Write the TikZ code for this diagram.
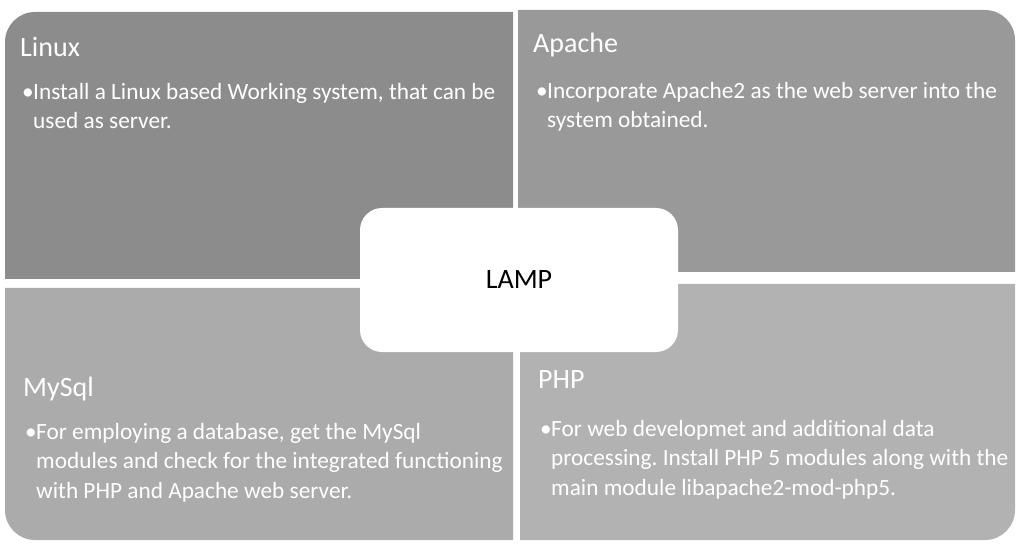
\documentclass[tikz,border=0pt]{standalone}
\usepackage{fontspec}
\setmainfont{Carlito}
\frenchspacing
\newcommand{\bul}{\makebox[11pt][l]{\textbullet}}
\newcommand{\ind}{\hspace*{11pt}}

\begin{document}
\begin{tikzpicture}[
    x=1pt, y=1pt,
    head/.style={anchor=north west, inner sep=0pt, text=white, font=\fontsize{28}{34}\selectfont},
    body/.style={anchor=north west, inner sep=0pt, text=white, align=left, font=\fontsize{23.3}{29.5}\selectfont},
    lampbox/.style={fill=white, rounded corners=22pt, minimum width=318pt, minimum height=144pt, font=\fontsize{28}{34}\selectfont}
  ]
  \useasboundingbox (0,0) rectangle (1019,544);

  \fill[black!45] (513,265) -- (5,265) -- (5,502) arc[start angle=180, end angle=90, radius=30] -- (513,532) -- cycle;
  \fill[black!40] (518,272) -- (518,534) -- (985,534) arc[start angle=90, end angle=0, radius=30] -- (1015,272) -- cycle;
  \fill[black!33] (5,256) -- (513,256) -- (513,4) -- (35,4) arc[start angle=270, end angle=180, radius=30] -- cycle;
  \fill[black!30] (520,260) -- (1015,260) -- (1015,34) arc[start angle=0, end angle=-90, radius=30] -- (520,4) -- cycle;

  \node[head] (linuxhead) at (20,507) {Linux};
  \node[body] (linuxtext) at (22,461) {\bul Install a Linux based Working system, that can be\\ \ind used as server.};

  \node[head] (apachehead) at (533,511) {Apache};
  \node[body] (apachetext) at (536,462) {\bul Incorporate Apache2 as the web server into the\\ \ind system obtained.};

  \node[head] (mysqlhead) at (23,167) {MySql};
  \node[body] (mysqltext) at (25,121) {\bul For employing a database, get the MySql\\ \ind modules and check for the integrated functioning\\ \ind with PHP and Apache web server.};

  \node[head] (phphead) at (538,174) {PHP};
  \node[body] (phptext) at (540,124) {\bul For web developmet and additional data\\ \ind processing. Install PHP 5 modules along with the\\ \ind main module libapache2-mod-php5.};

  \node[lampbox] (lamp) at (519,264) {LAMP};
\end{tikzpicture}
\end{document}
